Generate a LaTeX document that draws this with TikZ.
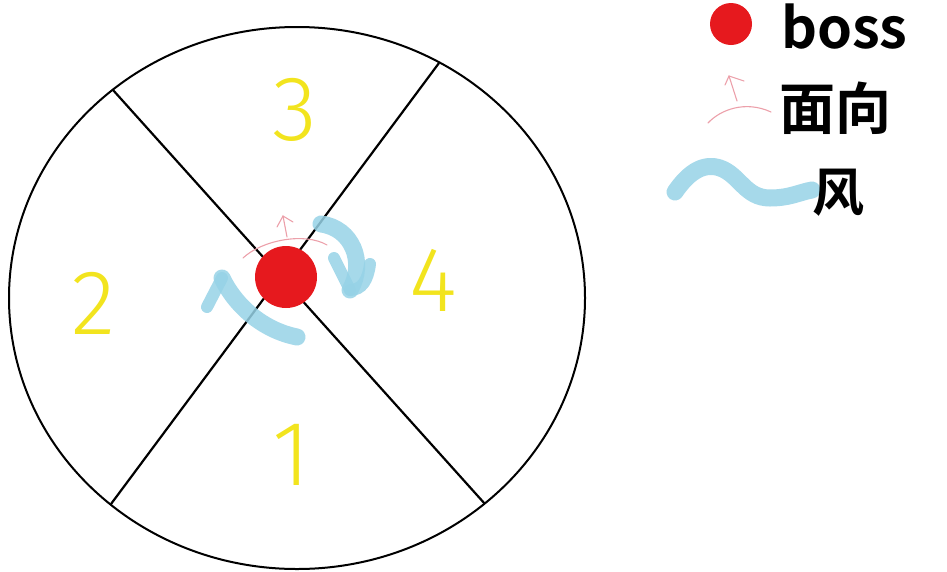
\documentclass[tikz,border=0pt]{standalone}
\usepackage{fontspec}
\newfontfamily\cjk{Noto Sans CJK SC}[BoldFont={Noto Sans CJK SC Bold}]
\newfontfamily\digitfont{Fira Sans Light}
\definecolor{bossred}{RGB}{230,25,30}
\definecolor{windblue}{RGB}{150,210,230}
\definecolor{facepink}{RGB}{236,160,170}
\definecolor{digityellow}{RGB}{242,228,30}
\tikzset{
  divider/.style={line width=2.2pt, black},
  wind/.style={windblue, line width=17pt, line cap=round, opacity=0.85},
  windbarb/.style={windblue, line width=12pt, line cap=round, opacity=0.85},
  facing/.style={facepink, line width=1.1pt, line cap=round},
  digit/.style={digityellow, inner sep=0pt, font=\digitfont\fontsize{92}{92}\selectfont},
  legendtext/.style={inner sep=0pt, anchor=base west, font=\cjk\bfseries\fontsize{56}{56}\selectfont}
}
\begin{document}
\begin{tikzpicture}[x=1pt,y=-1pt]
\useasboundingbox (0,0) rectangle (947,571);
% arena
\coordinate (arena) at (297,298);
\draw[line width=2pt] (arena) ellipse [x radius=288pt, y radius=271pt];
\coordinate (tl) at (113,90);
\coordinate (br) at (485,504);
\coordinate (tr) at (439,63);
\coordinate (bl) at (111,504);
\draw[divider] (tl) -- (br);
\draw[divider] (tr) -- (bl);
% digits
\node[digit] (d3) at (295,110) {3};
\node[digit] (d2) at (94,303) {2};
\node[digit] (d4) at (433,280) {4};
\node[digit] (d1) at (291,455) {1};
% facing arrow at boss
\coordinate (fa1) at (243,258);
\coordinate (fa2) at (327,245);
\coordinate (fs1) at (287,237);
\coordinate (fs2) at (283,216);
\coordinate (fb1) at (277,227);
\coordinate (fb2) at (293,222);
\draw[facing] (fa1) .. controls (262,240) and (305,232) .. (fa2);
\draw[facing] (fs1) -- (fs2);
\draw[facing] (fb1) -- (fs2) -- (fb2);
% boss
\node[circle, fill=bossred, minimum size=62pt, inner sep=0pt] (boss) at (286,277) {};
% wind arrows
\coordinate (wl0) at (297,337);
\coordinate (wl1) at (222,278);
\coordinate (wl2) at (207,307);
\draw[wind] (wl0) .. controls (262,330) and (235,305) .. (wl1);
\draw[windbarb] (wl1) -- (wl2);
\coordinate (wr0) at (321,224);
\coordinate (wr1) at (350,290);
\coordinate (wr2) at (334,258);
\coordinate (wr3) at (370,264);
\draw[wind] (wr0) .. controls (352,228) and (366,262) .. (wr1);
\draw[windbarb] (wr2) -- (wr1);
\draw[windbarb] (wr3) .. controls (368,280) and (362,290) .. (wr1);
% legend
\node[circle, fill=bossred, minimum size=42pt, inner sep=0pt] (legboss) at (731,24) {};
\node[legendtext] (tboss) at (781,48) {boss};
\coordinate (la1) at (708,123);
\coordinate (la2) at (771,112);
\coordinate (ls1) at (737,101);
\coordinate (ls2) at (729,76);
\coordinate (lb1) at (744,81);
\coordinate (lb2) at (725,85);
\draw[facing] (la1) .. controls (720,110) and (745,100) .. (la2);
\draw[facing] (ls1) -- (ls2);
\draw[facing] (lb2) -- (ls2) -- (lb1);
\node[legendtext] (tface) at (779,129) {面向};
\coordinate (lw0) at (675,192);
\coordinate (lw1) at (812,190);
\draw[wind] (lw0) .. controls (690,170) and (705,163) .. (720,168) .. controls (740,175) and (745,198) .. (770,198) .. controls (790,198) and (800,192) .. (lw1);
\node[legendtext, font=\cjk\bfseries\fontsize{52}{52}\selectfont] (twind) at (812,211) {风};
\end{tikzpicture}
\end{document}
